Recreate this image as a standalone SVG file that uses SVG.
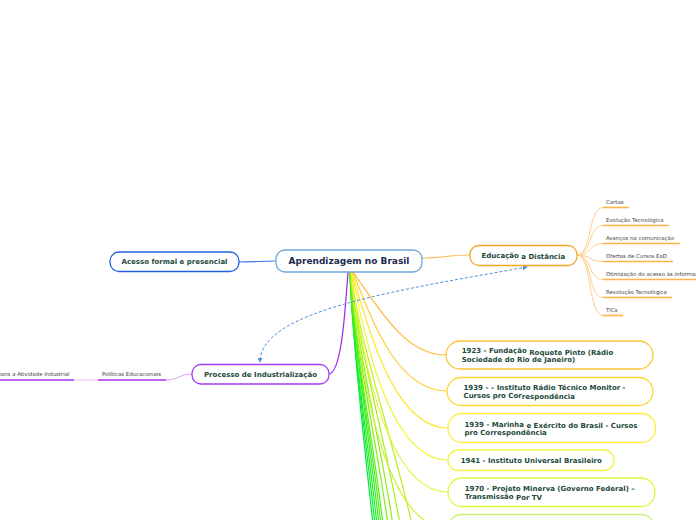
<svg xmlns="http://www.w3.org/2000/svg" width="696" height="520" viewBox="0 0 696 520">
<defs>
<style>
.node{fill:#fff;stroke-width:1.3}
.t{font-family:"DejaVu Sans","Liberation Sans",sans-serif;font-weight:bold;font-size:7px;fill:#1d4a3a}
.ct{font-family:"DejaVu Sans","Liberation Sans",sans-serif;font-weight:bold;font-size:9px;fill:#1c2b50}
.lbl{font-family:"DejaVu Sans","Liberation Sans",sans-serif;font-size:5.4px;fill:#444}
.c{fill:none;stroke-width:1.2}
.ul{fill:none;stroke-width:1.6}
</style>
<marker id="arr" viewBox="0 0 6 6" refX="5" refY="3" markerWidth="5" markerHeight="5" orient="auto-start-reverse" markerUnits="userSpaceOnUse">
<path d="M0,0 L6,3 L0,6 Z" fill="#4a90d9"/>
</marker>
</defs>

<g id="connectors">
<path class="c" d="M239,262 C255,262 260,261 276,261" stroke="#3a78e8"/>
<path class="c" d="M422,258 C440,258 452,255 470,255" stroke="#ffb84d"/>
<path class="c" d="M348,272 C344,330 340,372 329,374" stroke="#a020f0" stroke-width="1.5"/>
<!-- fan to offscreen nodes -->
<path class="c" d="M350,272 C352,340 365,450 373,525" stroke="#00e63c"/>
<path class="c" d="M350,272 C352,340 367,450 375,525" stroke="#10ea34"/>
<path class="c" d="M350,272 C352,340 369,450 377,525" stroke="#22ec2c"/>
<path class="c" d="M350,272 C353,340 371,450 379,525" stroke="#35ee24"/>
<path class="c" d="M350,272 C353,340 373,450 381,525" stroke="#48f01c"/>
<path class="c" d="M350,272 C353,340 375,450 383,525" stroke="#5cf014"/>
<path class="c" d="M350,272 C354,340 378,450 388,525" stroke="#75f010"/>
<path class="c" d="M351,272 C355,340 382,450 393,525" stroke="#8ef010"/>
<path class="c" d="M351,272 C356,340 388,450 400,525" stroke="#a6f015"/>
<path class="c" d="M351,272 C358,340 396,450 412,525" stroke="#bcf020"/>
<!-- to timeline boxes -->
<path class="c" d="M351,272 C362,400 390,528 448,528" stroke="#cdf23a"/>
<path class="c" d="M351,272 C365,380 392,492 448,492" stroke="#e0f533"/>
<path class="c" d="M352,272 C368,360 395,460 448,460" stroke="#f2f533"/>
<path class="c" d="M352,272 C372,345 398,428 448,428" stroke="#ffe633"/>
<path class="c" d="M353,272 C375,330 400,391 447,391" stroke="#ffcf33"/>
<path class="c" d="M353,272 C380,310 405,355 446,355" stroke="#ffb833"/>
<!-- Educação children -->
<g stroke="#ffcf8a" fill="none" stroke-width="1">
<path d="M577,255 C592,255 588,207.5 603,207.5"/>
<path d="M577,255 C592,255 588,225.5 603,225.5"/>
<path d="M577,255 C592,255 588,243.5 603,243.5"/>
<path d="M577,255 C592,255 588,261.5 603,261.5"/>
<path d="M577,255 C592,255 588,279.5 603,279.5"/>
<path d="M577,255 C592,255 588,297.5 603,297.5"/>
<path d="M577,255 C592,255 588,315.5 603,315.5"/>
</g>
<!-- Processo children -->
<path d="M192,374 C180,374 178,380 166,380" fill="none" stroke="#d9a0f5" stroke-width="1"/>
<path d="M98,380 L74,380" fill="none" stroke="#e6c4fa" stroke-width="1"/>
<!-- dashed relation -->
<path d="M527,267 C400,290 260,310 260,362" fill="none" stroke="#4a90d9" stroke-width="1" stroke-dasharray="3 2" marker-start="url(#arr)" marker-end="url(#arr)"/>
</g>

<g id="n-central">
<rect class="node" x="276" y="250" width="146" height="22" rx="9" stroke="#6fa8dc"/>
<text class="ct" x="349" y="264.3" text-anchor="middle">Aprendizagem no Brasil</text>
</g>

<g id="n-acesso">
<rect class="node" x="110" y="252" width="129" height="19.5" rx="9" stroke="#1f5fe0"/>
<text class="t" x="174.5" y="264.3" text-anchor="middle">Acesso formal e presencial</text>
</g>

<g id="n-ead">
<rect class="node" x="470" y="245.5" width="107" height="20" rx="9" stroke="#f5a623"/>
<text class="t" x="481.5" y="257.6">Educação<tspan dy="1.4"> a Distância</tspan></text>
</g>

<g id="ead-children">
<g stroke="#ffb347" class="ul">
<path d="M603,207.5 H629"/>
<path d="M603,225.5 H669"/>
<path d="M603,243.5 H680"/>
<path d="M603,261.5 H673"/>
<path d="M603,279.5 H700"/>
<path d="M603,297.5 H672"/>
<path d="M603,315.5 H623"/>
</g>
<text class="lbl" x="606" y="204.2">Cartas</text>
<text class="lbl" x="606" y="222.2">Evolução Tecnológica</text>
<text class="lbl" x="606" y="240.2">Avanços na comunicação</text>
<text class="lbl" x="606" y="258.2">Ofertas de Cursos EaD</text>
<text class="lbl" x="606" y="276.2">Otimização do acesso às informações</text>
<text class="lbl" x="606" y="294.2">Revolução Tecnológica</text>
<text class="lbl" x="606" y="312.2">TICs</text>
</g>

<g id="n-processo">
<rect class="node" x="192" y="364.5" width="137" height="19.5" rx="9" stroke="#a53df5"/>
<text class="t" x="260.5" y="377" text-anchor="middle">Processo de Industrialização</text>
</g>

<g id="processo-children">
<path class="ul" d="M98,380 H166" stroke="#a530f0"/>
<path class="ul" d="M-5,380 H74" stroke="#a530f0"/>
<text class="lbl" x="102" y="376.2">Políticas Educacionais</text>
<text class="lbl" x="69.5" y="376.2" text-anchor="end">para a Atividade Industrial</text>
</g>

<g id="n-1923">
<rect class="node" x="446" y="341" width="207" height="28" rx="14" stroke="#ffc533"/>
<text class="t" x="461.7" y="353.3">1923 - Fundação<tspan dy="1.2"> Roquete Pinto (Rádio</tspan></text>
<text class="t" x="461.7" y="362">Sociedade do Rio de Janeiro)</text>
</g>

<g id="n-1939a">
<rect class="node" x="447" y="377.5" width="206" height="28" rx="14" stroke="#ffd633"/>
<text class="t" x="463.5" y="390.3">1939 - – Instituto Rádio Técnico Monitor -</text>
<text class="t" x="463.5" y="398">Cursos pro Cor<tspan dy="1.4">respondência</tspan></text>
</g>

<g id="n-1939b">
<rect class="node" x="448" y="413.5" width="207.5" height="29" rx="14" stroke="#ffec40"/>
<text class="t" x="464.5" y="426.5">1939 - Marinha<tspan dy="1.1"> e Exército do Brasil - Cursos</tspan></text>
<text class="t" x="464.5" y="435">pro Correspondência</text>
</g>

<g id="n-1941">
<rect class="node" x="448" y="450" width="166" height="20.5" rx="10" stroke="#f5f545"/>
<text class="t" x="460.7" y="463">1941 - Instituto Universal Brasileiro</text>
</g>

<g id="n-1970">
<rect class="node" x="448" y="478" width="207" height="28.5" rx="14" stroke="#e2f53d"/>
<text class="t" x="464.7" y="491.3">1970 - Projeto Minerva (Governo Federal) –</text>
<text class="t" x="464.7" y="498.7">Transmissão<tspan dy="1.3"> Por TV</tspan></text>
</g>

<g id="n-next">
<rect class="node" x="448" y="514.5" width="207" height="28" rx="14" stroke="#cdf07a"/>
</g>
</svg>
